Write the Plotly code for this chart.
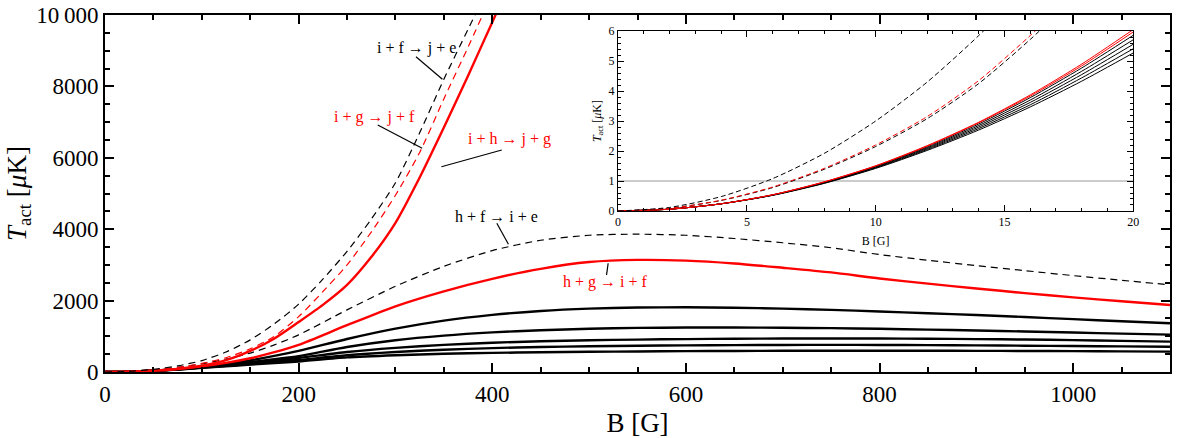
import plotly.graph_objects as go

# ---------------- main panel data ----------------
B_steep = [0, 25, 50, 75, 100, 125, 150, 175, 200, 225, 250, 275, 300, 325, 350, 375, 400, 425]
T_ifje = [0, 19, 75, 170, 320, 560, 900, 1350, 1900, 2600, 3380, 4280, 5300, 6700, 8200, 9600, 11000, 12400]
T_igjf = [0, 14, 57, 130, 240, 400, 650, 1000, 1550, 2250, 3000, 3920, 4950, 6150, 7650, 9100, 10600, 12100]
T_ihjg = [0, 10, 38, 88, 175, 330, 590, 940, 1400, 1880, 2440, 3220, 4180, 5450, 6850, 8300, 9800, 11300]

B_sat = [0, 25, 50, 75, 100, 125, 150, 175, 200, 250, 300, 350, 400, 450, 500, 550,
         600, 650, 700, 750, 800, 850, 900, 950, 1000, 1050, 1100]
T_hfie = [0, 14, 57, 128, 228, 360, 530, 760, 1040, 1740, 2400, 2960, 3400, 3690, 3830, 3860,
          3830, 3740, 3620, 3480, 3290, 3130, 2980, 2840, 2700, 2570, 2440]
T_hgif = [0, 10, 38, 86, 158, 255, 385, 555, 760, 1310, 1840, 2260, 2610, 2890, 3080, 3140,
          3120, 3040, 2920, 2790, 2620, 2475, 2340, 2210, 2090, 1980, 1877]
T_blk1 = [0, 9, 36, 80, 140, 222, 325, 450, 590, 925, 1215, 1440, 1600, 1710, 1775, 1805,
          1812, 1800, 1775, 1740, 1695, 1645, 1595, 1540, 1480, 1420, 1364]
T_blk2 = [0, 9, 35, 78, 135, 202, 278, 360, 445, 700, 890, 1020, 1110, 1170, 1210, 1235,
          1245, 1245, 1240, 1228, 1210, 1188, 1163, 1135, 1105, 1075, 1046]
T_blk3 = [0, 8.5, 34, 75, 128, 186, 252, 322, 392, 560, 675, 760, 820, 860, 888, 908,
          922, 932, 938, 940, 938, 932, 922, 910, 893, 873, 850]
T_blk4 = [0, 8.5, 33, 72, 122, 173, 226, 281, 336, 470, 560, 625, 670, 700, 720, 735,
          746, 754, 758, 760, 758, 753, 746, 737, 727, 718, 709]
T_blk5 = [0, 8, 32, 70, 116, 161, 206, 252, 295, 410, 470, 510, 535, 553, 566, 576,
          584, 590, 594, 596, 597, 596, 593, 589, 584, 577, 570]

# ---------------- inset data ----------------
B_in = [0, 2, 4, 6, 8, 10, 12, 14, 16, 18, 20]
Ti_ifje = [0, 0.12, 0.48, 1.08, 1.92, 3.0, 4.3, 5.85, 7.6, 9.5, 11.6]
Ti_igjf = [0, 0.09, 0.36, 0.80, 1.42, 2.2, 3.15, 4.35, 5.85, 7.5, 9.3]
Ti_hfie = [0, 0.09, 0.35, 0.78, 1.39, 2.15, 3.08, 4.25, 5.72, 7.35, 9.1]
Ti_ihjg = [0, 0.06, 0.24, 0.54, 0.97, 1.51, 2.18, 2.96, 3.87, 4.90, 6.05]
Ti_hgif = [0, 0.06, 0.24, 0.54, 0.97, 1.50, 2.16, 2.94, 3.83, 4.84, 5.97]
Ti_blk1 = [0, 0.06, 0.24, 0.54, 0.96, 1.49, 2.14, 2.90, 3.78, 4.77, 5.86]
Ti_blk2 = [0, 0.06, 0.24, 0.53, 0.95, 1.48, 2.11, 2.85, 3.70, 4.66, 5.71]
Ti_blk3 = [0, 0.06, 0.24, 0.53, 0.94, 1.46, 2.08, 2.80, 3.62, 4.55, 5.56]
Ti_blk4 = [0, 0.06, 0.24, 0.53, 0.93, 1.44, 2.05, 2.75, 3.54, 4.44, 5.41]
Ti_blk5 = [0, 0.06, 0.24, 0.52, 0.92, 1.42, 2.02, 2.70, 3.47, 4.33, 5.27]
T_threshold = 1.0

main_ticks_x = [0, 200, 400, 600, 800, 1000]
main_ticks_y = [0, 2000, 4000, 6000, 8000, 10000]
main_ticktext_y = ["0", "2000", "4000", "6000", "8000", "10\u2009000"]

RED = "#ff0000"
BLK = "#000000"
FONT = "Liberation Serif, Times New Roman, serif"

fig = go.Figure()

def add(x, y, color, width, dash, xa="x", ya="y"):
    fig.add_trace(go.Scatter(x=x, y=y, mode="lines", xaxis=xa, yaxis=ya,
                             line=dict(color=color, width=width, dash=dash, shape="spline", smoothing=0.7),
                             showlegend=False, hoverinfo="skip"))

# main
for y in [T_blk5, T_blk4, T_blk3, T_blk2, T_blk1]:
    add(B_sat, y, BLK, 2.4, "solid")
add(B_sat, T_hgif, RED, 2.4, "solid")
add(B_sat, T_hfie, BLK, 1.2, "7px,5px")
add(B_steep, T_ihjg, RED, 2.4, "solid")
add(B_steep, T_igjf, RED, 1.2, "7px,5px")
add(B_steep, T_ifje, BLK, 1.2, "7px,5px")

# inset
fig.add_trace(go.Scatter(x=[0, 20], y=[T_threshold, T_threshold], mode="lines", xaxis="x2", yaxis="y2",
                         line=dict(color="#999999", width=1.2), showlegend=False, hoverinfo="skip"))
for y in [Ti_blk5, Ti_blk4, Ti_blk3, Ti_blk2, Ti_blk1]:
    add(B_in, y, BLK, 1.0, "solid", "x2", "y2")
add(B_in, Ti_hgif, RED, 1.0, "solid", "x2", "y2")
add(B_in, Ti_ihjg, RED, 1.0, "solid", "x2", "y2")
add(B_in, Ti_hfie, BLK, 1.0, "5px,3px", "x2", "y2")
add(B_in, Ti_igjf, RED, 1.0, "5px,3px", "x2", "y2")
add(B_in, Ti_ifje, BLK, 1.0, "5px,3px", "x2", "y2")

axis_common = dict(showgrid=False, zeroline=False, showline=True, linecolor="black",
                   mirror="allticks", ticks="inside", tickcolor="black")

fig.update_layout(
    width=1178, height=438,
    margin=dict(l=105, r=2, t=15, b=66),
    paper_bgcolor="white", plot_bgcolor="white",
    font=dict(family=FONT, color="black"),
    xaxis=dict(range=[0, 1100], domain=[0, 1], tickvals=main_ticks_x, ticklen=9, tickwidth=1.5,
               linewidth=2, tickfont=dict(size=23, family=FONT),
               minor=dict(dtick=50, tick0=0, ticklen=5, tickcolor="black", ticks="inside"),
               title=dict(text="B [G]", font=dict(size=27, family=FONT), standoff=8),
               **axis_common),
    yaxis=dict(range=[0, 10000], domain=[0, 1], tickvals=main_ticks_y, ticktext=main_ticktext_y,
               ticklen=9, tickwidth=1.5, linewidth=2, tickfont=dict(size=23, family=FONT),
               minor=dict(dtick=500, tick0=0, ticklen=5, tickcolor="black", ticks="inside"),
               title=dict(text="<i>T</i><sub>act</sub> [<i>μ</i>K]", font=dict(size=27, family=FONT), standoff=2),
               **axis_common),
    xaxis2=dict(range=[0, 20], domain=[0.4818, 0.9655], anchor="y2", tickvals=[0, 5, 10, 15, 20],
                ticklen=6, tickwidth=1, linewidth=1.2, tickfont=dict(size=12, family=FONT),
                minor=dict(dtick=1, tick0=0, ticklen=3, tickcolor="black", ticks="inside"),
                title=dict(text="B [G]", font=dict(size=12, family=FONT), standoff=8),
                **axis_common),
    yaxis2=dict(range=[0, 6], domain=[0.451, 0.955], anchor="x2", tickvals=[0, 1, 2, 3, 4, 5, 6],
                ticklen=6, tickwidth=1, linewidth=1.2, tickfont=dict(size=12, family=FONT),
                minor=dict(dtick=0.2, tick0=0, ticklen=3, tickcolor="black", ticks="inside"),
                title=dict(text="<i>T</i><sub>act</sub> [<i>μ</i>K]", font=dict(size=12, family=FONT), standoff=4),
                **axis_common),
)

labels = [
    ("i + f \u2192 j + e", 321.5, 9084, BLK, (321.2, 8832, 348.5, 8199)),
    ("i + g \u2192 j + f", 278.3, 7143, RED, (281.7, 6918, 327.6, 6266)),
    ("i + h \u2192 j + g", 418.0, 6518, RED, (409.8, 6218, 347.5, 5750)),
    ("h + f \u2192 i + e", 404.7, 4342, BLK, (404.7, 4165, 416.7, 3577)),
    ("h + g \u2192 i + f", 516.6, 2521, RED, (519.7, 3045, 518.0, 2717)),
]
for text, x, y, col, (x0, y0, x1, y1) in labels:
    fig.add_annotation(x=x, y=y, xref="x", yref="y", text=text, showarrow=False,
                       font=dict(size=16, family=FONT, color=col))
    fig.add_shape(type="line", xref="x", yref="y", x0=x0, y0=y0, x1=x1, y1=y1,
                  line=dict(color="black", width=1.2))

fig.write_html("out.html")
